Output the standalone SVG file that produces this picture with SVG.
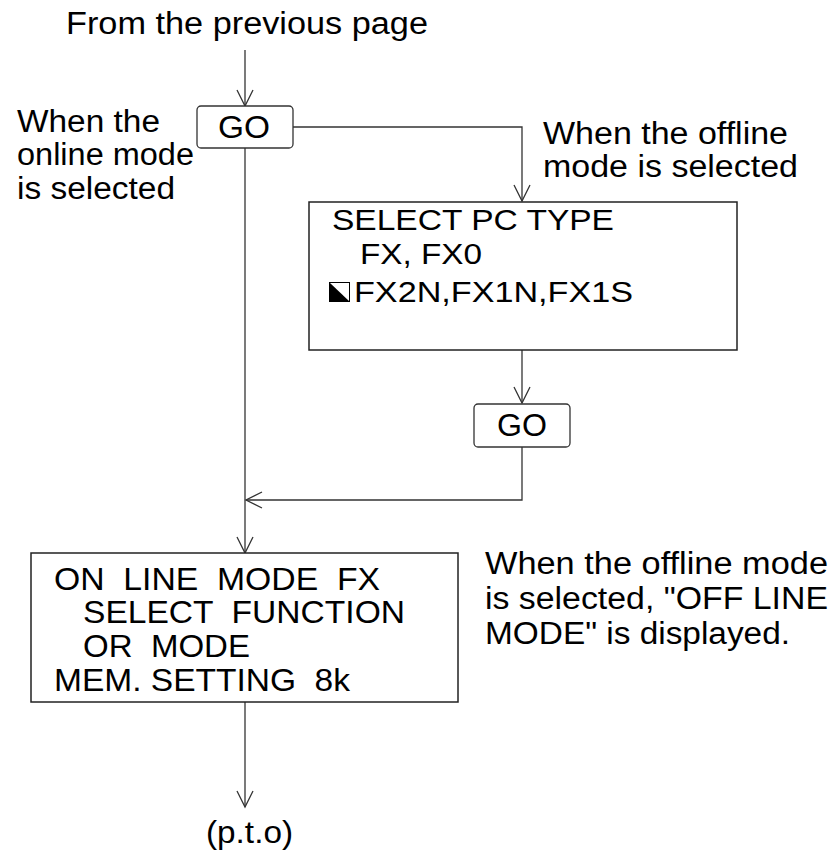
<svg xmlns="http://www.w3.org/2000/svg" width="833" height="851" viewBox="0 0 833 851">
<style>
text{font-family:"Liberation Sans",Arial,Helvetica,sans-serif;font-size:31px;fill:#000;white-space:pre}
.sm{font-size:29px}
.box{fill:#fff;stroke:#222;stroke-width:1.5}
.go{fill:#fff;stroke:#333;stroke-width:1.3}
.ln{fill:none;stroke:#333;stroke-width:1.3}
</style>
<defs>
<marker id="ah" markerUnits="userSpaceOnUse" markerWidth="20" markerHeight="20" viewBox="-18 -10 20 20" refX="0" refY="0" orient="auto">
<path d="M-16,-8 L0,0 L-16,8" fill="none" stroke="#333" stroke-width="1.3"/>
</marker>
</defs>
<rect width="833" height="851" fill="#fff"/>
<g id="connectors">
<path class="ln" d="M245,50 V106" marker-end="url(#ah)"/>
<path class="ln" d="M245,148 V553" marker-end="url(#ah)"/>
<path class="ln" d="M293,127 H522 V201" marker-end="url(#ah)"/>
<path class="ln" d="M522,350 V403" marker-end="url(#ah)"/>
<path class="ln" d="M522,447 V500 H246" marker-end="url(#ah)"/>
<path class="ln" d="M245,702 V807" marker-end="url(#ah)"/>
</g>
<g id="label-from">
<text x="66" y="34" textLength="362" lengthAdjust="spacingAndGlyphs">From the previous page</text>
</g>
<g id="label-online">
<text x="17" y="132" textLength="143" lengthAdjust="spacingAndGlyphs">When the</text>
<text x="17" y="165" textLength="177" lengthAdjust="spacingAndGlyphs">online mode</text>
<text x="17" y="199" textLength="158" lengthAdjust="spacingAndGlyphs">is selected</text>
</g>
<g id="label-offline">
<text x="543" y="144" textLength="245" lengthAdjust="spacingAndGlyphs">When the offline</text>
<text x="543" y="177" textLength="255" lengthAdjust="spacingAndGlyphs">mode is selected</text>
</g>
<g id="go1">
<rect class="go" x="197" y="106" width="96" height="42" rx="4"/>
<text x="218" y="138" textLength="52" lengthAdjust="spacingAndGlyphs">GO</text>
</g>
<g id="select-pc-type">
<rect class="box" x="309" y="202" width="428" height="148"/>
<text class="sm" x="332" y="230" textLength="282" lengthAdjust="spacingAndGlyphs">SELECT PC TYPE</text>
<text class="sm" x="360" y="264" textLength="122" lengthAdjust="spacingAndGlyphs">FX, FX0</text>
<rect x="329.5" y="282.5" width="20" height="19" fill="#fff" stroke="#000" stroke-width="1"/>
<path d="M329.5,282.5 L349.5,301.5 L329.5,301.5 Z" fill="#000"/>
<text class="sm" x="354" y="302" textLength="279" lengthAdjust="spacingAndGlyphs">FX2N,FX1N,FX1S</text>
</g>
<g id="go2">
<rect class="go" x="474" y="404" width="96" height="43" rx="4"/>
<text x="497" y="436" textLength="50" lengthAdjust="spacingAndGlyphs">GO</text>
</g>
<g id="online-mode">
<rect class="box" x="31" y="553" width="427" height="149"/>
<text x="54" y="590" textLength="326" lengthAdjust="spacingAndGlyphs">ON  LINE  MODE  FX</text>
<text x="83" y="623" textLength="322" lengthAdjust="spacingAndGlyphs">SELECT  FUNCTION</text>
<text x="83" y="657" textLength="167" lengthAdjust="spacingAndGlyphs">OR  MODE</text>
<text x="54" y="691" textLength="296" lengthAdjust="spacingAndGlyphs">MEM. SETTING  8k</text>
</g>
<g id="note-offline">
<text x="485" y="574" textLength="343" lengthAdjust="spacingAndGlyphs">When the offline mode</text>
<text x="485" y="609" textLength="343" lengthAdjust="spacingAndGlyphs">is selected, "OFF LINE</text>
<text x="485" y="644" textLength="305" lengthAdjust="spacingAndGlyphs">MODE" is displayed.</text>
</g>
<g id="label-pto">
<text x="206" y="843" textLength="87" lengthAdjust="spacingAndGlyphs">(p.t.o)</text>
</g>
</svg>
